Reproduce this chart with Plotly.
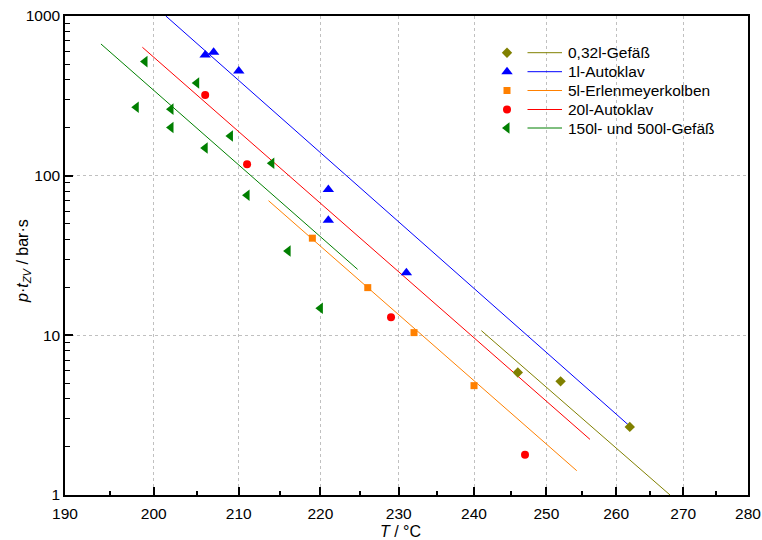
import numpy as np
import plotly.graph_objects as go

# ---------------- data ----------------
olive_T = [246, 252, 262]
olive_v = [5.85, 5.15, 2.67]
olive_fit_T = [241, 268]
olive_fit_v = [10.7, 1.0]

blue_T = [206, 207, 210, 221, 221, 231]
blue_v = [570, 593, 453, 82, 52.5, 24.7]
blue_fit_T = [201.4, 262]
blue_fit_v = [1000, 2.7]

orange_T = [219, 226, 232, 240]
orange_v = [40.6, 19.9, 10.4, 4.84]
orange_fit_T = [213.6, 254.3]
orange_fit_v = [69.7, 1.42]

red_T = [206, 211, 229, 247]
red_v = [320, 118, 13.0, 1.79]
red_fit_T = [198.7, 256.2]
red_fit_v = [637, 2.23]

green_T = [198, 199, 202, 202, 205, 206, 209, 211, 214, 216, 220]
green_v = [268, 518, 261, 200, 380, 149, 177, 75.4, 119.5, 33.7, 14.8]
green_fit_T = [194, 224.7]
green_fit_v = [668, 25.9]

labels = ["0,32l-Gefäß", "1l-Autoklav", "5l-Erlenmeyerkolben", "20l-Autoklav", "150l- und 500l-Gefäß"]
x_ticks = [190, 200, 210, 220, 230, 240, 250, 260, 270, 280]
x_minor = [195, 205, 215, 225, 235, 245, 255, 265, 275]
y_ticks = [1, 10, 100, 1000]


def u(T):
    # Arrhenius abscissa: reciprocal absolute temperature
    return -1000.0 / (np.asarray(T, dtype=float) + 273.15)


FONT = "Liberation Sans, Arial, Helvetica, sans-serif"
series = [
    (olive_T, olive_v, olive_fit_T, olive_fit_v, "#808000", "diamond", 8),
    (blue_T, blue_v, blue_fit_T, blue_fit_v, "#0000FF", "triangle-up", 10),
    (orange_T, orange_v, orange_fit_T, orange_fit_v, "#FF8000", "square", 7),
    (red_T, red_v, red_fit_T, red_fit_v, "#FF0000", "circle", 8),
    (green_T, green_v, green_fit_T, green_fit_v, "#007F00", "triangle-left", 10),
]

fig = go.Figure()
for (T, v, fT, fv, col, sym, sz), lab in zip(series, labels):
    fig.add_trace(go.Scatter(x=u(fT), y=fv, mode="lines", line=dict(color=col, width=1),
                             showlegend=False, hoverinfo="skip"))
for (T, v, fT, fv, col, sym, sz), lab in zip(series, labels):
    fig.add_trace(go.Scatter(x=u(T), y=v, mode="markers", name=lab,
                             marker=dict(color=col, symbol=sym, size=sz, line=dict(width=0)),
                             showlegend=False))

# custom legend on an overlay axis in pixel units
row_y = [52.7, 71.7, 90.5, 109.5, 128]
for (T, v, fT, fv, col, sym, sz), lab, ry in zip(series, labels, row_y):
    fig.add_trace(go.Scatter(x=[507], y=[ry], xaxis="x2", yaxis="y2", mode="markers",
                             marker=dict(color=col, symbol=sym, size=sz, line=dict(width=0)),
                             showlegend=False, hoverinfo="skip"))
    fig.add_trace(go.Scatter(x=[527.5, 562], y=[ry, ry], xaxis="x2", yaxis="y2", mode="lines",
                             line=dict(color=col, width=1), showlegend=False, hoverinfo="skip"))
    fig.add_annotation(x=566, y=ry, xref="x2", yref="y2", text=lab, showarrow=False,
                       xanchor="left", yanchor="middle", font=dict(size=15.5, color="black", family=FONT))

# axis titles
fig.add_annotation(x=(400.5 - 65) / 683, y=(495 - 531) / 479, xref="paper", yref="paper",
                   text="<i>T</i> / °C", showarrow=False, xanchor="center", yanchor="middle",
                   font=dict(size=16, color="black", family=FONT))
fig.add_annotation(x=(23 - 65) / 683, y=(495 - 261) / 479, xref="paper", yref="paper",
                   text="<i>p</i>·<i>t</i><sub><i>ZV</i></sub> / bar·s", textangle=-90,
                   showarrow=False, xanchor="center", yanchor="middle",
                   font=dict(size=16, color="black", family=FONT))

grid = dict(showgrid=True, gridcolor="#c0c0c0", griddash="dot", gridwidth=1)
fig.update_layout(
    width=762, height=540,
    margin=dict(l=65, r=14, t=16, b=45),
    paper_bgcolor="white", plot_bgcolor="white",
    font=dict(family=FONT, size=15.5, color="black"),
    showlegend=False,
    xaxis=dict(
        range=[float(u(190)), float(u(280))], automargin=False,
        tickmode="array", tickvals=list(u(x_ticks)), ticktext=[str(t) for t in x_ticks],
        ticks="inside", ticklen=8, tickwidth=1.5, tickcolor="black", ticklabelstandoff=4,
        minor=dict(tickmode="array", tickvals=list(u(x_minor)), ticks="inside", ticklen=4,
                   tickwidth=1.5, tickcolor="black", showgrid=False),
        showline=True, linecolor="black", linewidth=1.5, mirror=True,
        zeroline=False,
        **grid,
    ),
    yaxis=dict(
        type="log", range=[0, 3], automargin=False,
        tickmode="array", tickvals=y_ticks, ticktext=[str(t) for t in y_ticks],
        ticks="inside", ticklen=8, tickwidth=1.5, tickcolor="black",
        minor=dict(tickmode="array",
                   tickvals=[m * d for d in (1, 10, 100) for m in range(2, 10)],
                   ticks="inside", ticklen=5, tickwidth=1, tickcolor="black", showgrid=False),
        showline=True, linecolor="black", linewidth=1.5, mirror=True,
        zeroline=False,
        **grid,
    ),
    xaxis2=dict(overlaying="x", range=[65, 748], visible=False, fixedrange=True),
    yaxis2=dict(overlaying="y", range=[495, 16], visible=False, fixedrange=True),
)

fig.write_html("out.html", config={"displayModeBar": False},
               post_script="document.body.style.margin='0';")
